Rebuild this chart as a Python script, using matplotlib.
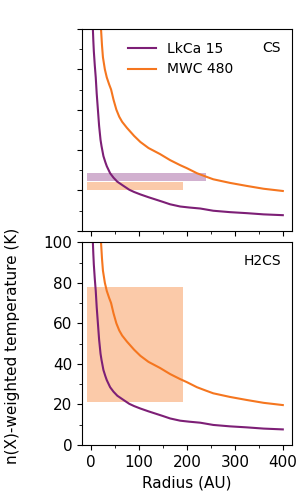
import matplotlib
matplotlib.use("Agg")
import matplotlib.pyplot as plt
from matplotlib.ticker import MultipleLocator

# radial temperature profiles (AU, K)
lkca_r = [2, 3, 4, 5, 6, 8, 10, 12, 14.5, 17, 20, 22, 26, 30, 33, 40, 47, 55, 68,
          80, 90, 103, 120, 137, 150, 165, 186, 205, 228, 255, 290, 325, 360, 400]
lkca_T = [150, 120, 100, 94, 89, 82, 76, 68, 60, 52, 45, 42, 37, 34, 32, 28.5, 26.3, 24.3, 22.2,
          20.3, 19.2, 18, 16.6, 15.3, 14.3, 13.1, 12, 11.5, 11, 9.9, 9.2, 8.7, 8.1, 7.7]
mwc_r = [15, 19, 21, 23, 25, 29, 33, 38, 42, 47, 53, 59, 65, 75, 90, 103, 120, 144,
         165, 186, 200, 221, 240, 255, 290, 325, 360, 400]
mwc_T = [130, 108, 100, 92, 86, 80, 76, 72.5, 70, 65, 60, 56.5, 54, 51, 47, 44, 41, 38,
         35, 32.5, 31, 28.5, 26.8, 25.5, 23.7, 22.2, 20.8, 19.7]

# observed ranges: (r_min, r_max, T_min, T_max)
cs_lkca_box = (-8, 240, 24.5, 28.4)
cs_mwc_box = (-8, 192, 20.4, 24.1)
h2cs_mwc_box = (-8, 192, 21, 78)

purple = "#7d1f76"
orange = "#f5761f"

fig = plt.figure(figsize=(3.06, 4.97), dpi=100)
ax1 = fig.add_axes([0.269, 0.5358, 0.685, 0.4058])
ax2 = fig.add_axes([0.269, 0.1046, 0.685, 0.408])


def box(ax, b, color, alpha):
    ax.fill_between([b[0], b[1]], b[2], b[3], color=color, alpha=alpha, lw=0)


for ax in (ax1, ax2):
    ax.plot(lkca_r, lkca_T, color=purple, lw=1.5, label="LkCa 15")
    ax.plot(mwc_r, mwc_T, color=orange, lw=1.5, label="MWC 480")
    ax.set_xlim(-18, 419)
    ax.set_ylim(0, 100)
    ax.xaxis.set_major_locator(MultipleLocator(100))
    ax.xaxis.set_minor_locator(MultipleLocator(50))
    ax.yaxis.set_major_locator(MultipleLocator(20))
    ax.yaxis.set_minor_locator(MultipleLocator(10))
    ax.tick_params(labelsize=11)

box(ax1, cs_lkca_box, purple, 0.35)
box(ax1, cs_mwc_box, orange, 0.38)
box(ax2, h2cs_mwc_box, orange, 0.38)

ax1.tick_params(labelbottom=False, labelleft=False)
ax1.legend(loc="upper center", frameon=False, fontsize=10, bbox_to_anchor=(0.47, 1.0))
ax1.text(0.947, 0.942, "CS", transform=ax1.transAxes, ha="right", va="top", fontsize=10)
ax2.text(0.947, 0.942, "H2CS", transform=ax2.transAxes, ha="right", va="top", fontsize=10)

ax2.set_xlabel("Radius (AU)", fontsize=11)
ax2.set_ylabel("n(X)-weighted temperature (K)", fontsize=11)
ax2.yaxis.set_label_coords(-0.297, 0.49)

fig.savefig("out.png", dpi=100)
